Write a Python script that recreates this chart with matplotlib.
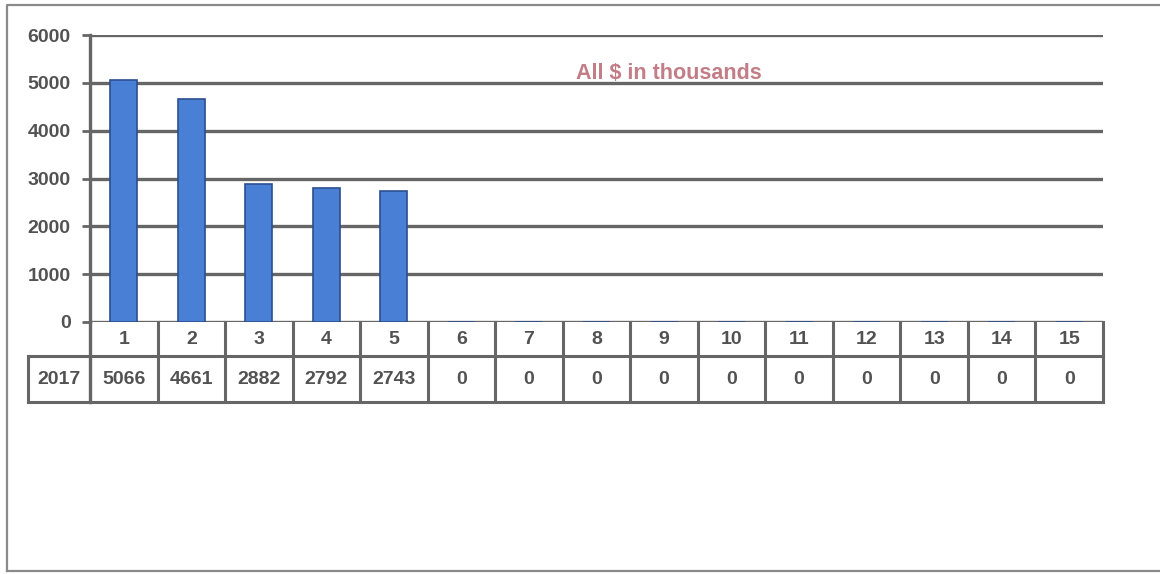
import matplotlib.pyplot as plt
from matplotlib.lines import Line2D

# data
periods = list(range(1, 16))
values_2017 = [5066, 4661, 2882, 2792, 2743, 0, 0, 0, 0, 0, 0, 0, 0, 0, 0]
row_label = "2017"
yticks = [0, 1000, 2000, 3000, 4000, 5000, 6000]
note = "All $ in thousands"

LINE = "#666666"
TEXT = "#525252"
BAR = "#4a7fd6"

plt.rcParams["font.family"] = ["Liberation Sans", "DejaVu Sans"]
plt.rcParams["font.weight"] = "bold"


def main():
    fig = plt.figure(figsize=(11.6, 5.74), dpi=100)
    W, H = 1160, 574
    ax = fig.add_axes([90 / W, 1 - 322 / H, (1103 - 90) / W, (322 - 35) / H])

    ax.set_xlim(0.5, len(periods) + 0.5)
    ax.set_ylim(0, 6000)

    for v in yticks:
        ax.axhline(v, color=LINE, lw=2.4, zorder=1)

    ax.bar(periods, values_2017, width=0.4, color=BAR,
           edgecolor="#2b4f8f", linewidth=1.2, zorder=3)

    ax.set_yticks(yticks)
    ax.set_yticklabels([str(v) for v in yticks], fontsize=14,
                       fontweight="bold", color=TEXT)
    ax.tick_params(axis="y", length=6, width=2, color=LINE, pad=8)
    ax.set_xticks([])
    for s in ["top", "right", "bottom"]:
        ax.spines[s].set_visible(False)
    ax.spines["left"].set_color(LINE)
    ax.spines["left"].set_linewidth(2.4)

    # data table under the axis
    tr = ax.get_xaxis_transform()
    h1 = -34 / 287
    h2 = -80 / 287
    left_x = 0.5 - 62 / 67.53
    lw = 2.2
    ax.add_line(Line2D([0.5, 0.5], [0, h2], transform=tr, color=LINE,
                       lw=2.4, clip_on=False))
    for b in range(1, len(periods) + 1):
        xb = b + 0.5
        ax.add_line(Line2D([xb, xb], [0, h2], transform=tr, color=LINE,
                           lw=lw, clip_on=False))
    ax.add_line(Line2D([left_x, len(periods) + 0.5], [h1, h1], transform=tr,
                       color=LINE, lw=lw, clip_on=False))
    ax.add_line(Line2D([left_x, len(periods) + 0.5], [h2, h2], transform=tr,
                       color=LINE, lw=lw, clip_on=False))
    ax.add_line(Line2D([left_x, left_x], [h1, h2], transform=tr,
                       color=LINE, lw=lw, clip_on=False))

    for p, v in zip(periods, values_2017):
        ax.text(p, h1 / 2, str(p), transform=tr, ha="center", va="center",
                fontsize=14, fontweight="bold", color=TEXT)
        ax.text(p, (h1 + h2) / 2, str(v), transform=tr, ha="center",
                va="center", fontsize=14, fontweight="bold", color=TEXT)
    ax.text((left_x + 0.5) / 2, (h1 + h2) / 2, row_label, transform=tr,
            ha="center", va="center", fontsize=14, fontweight="bold",
            color=TEXT)

    ax.text(0.571, 0.848, note, transform=ax.transAxes, ha="center",
            va="baseline", fontsize=15.5, fontweight="bold", color="#c27d86")

    # outer frame of the scanned page
    fx = [7 / W, 7 / W, 1.0]
    fy = [1 - 571 / H, 1 - 5 / H, 1 - 5 / H]
    fig.add_artist(Line2D(fx, fy, transform=fig.transFigure,
                          color="#8a8a8a", lw=1.6))
    fig.add_artist(Line2D([7 / W, 1.0], [1 - 571 / H, 1 - 571 / H],
                          transform=fig.transFigure, color="#8a8a8a", lw=1.6))

    fig.savefig("out.png", dpi=100)


if __name__ == "__main__":
    main()
